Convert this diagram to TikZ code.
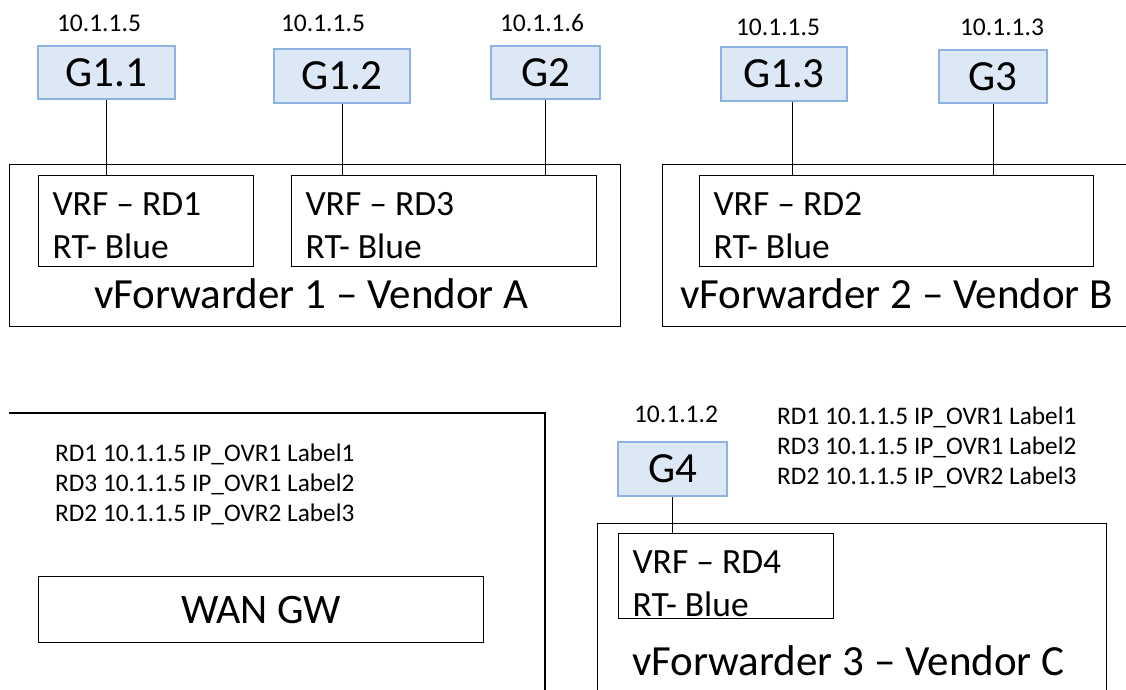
\documentclass[tikz,border=0pt]{standalone}
\usepackage{fontspec}
\setmainfont{Carlito}
\definecolor{gfill}{RGB}{220,232,245}
\definecolor{gline}{RGB}{141,179,226}

\begin{document}
\begin{tikzpicture}[
  x=1pt,y=-1pt,
  gbox/.style={draw=gline,fill=gfill,line width=1.2pt,inner sep=0pt,font=\fontsize{43}{52}\selectfont},
  vrf/.style={draw,line width=1.2pt,anchor=north west,align=flush left,inner xsep=14pt,inner ysep=0pt,text height=33pt,font=\fontsize{35.5}{43}\selectfont},
  vfbox/.style={draw,line width=1.2pt,anchor=north west,inner sep=0pt},
  vendor/.style={anchor=base west,inner sep=0pt,font=\fontsize{43}{52}\selectfont},
  ip/.style={anchor=base,inner sep=0pt,font=\fontsize{25.5}{30}\selectfont},
  routes/.style={anchor=base west,align=flush left,text width=320pt,inner sep=0pt,font=\fontsize{25.3}{30}\selectfont},
  link/.style={line width=1pt}
]
\useasboundingbox (0,0) rectangle (1126,689);
\clip (0,0) rectangle (1126,689);

\node[vfbox,minimum width=611pt,minimum height=162pt] (vf1) at (9,164) {};
\node[vendor] (vf1t) at (94,308) {vForwarder 1 -- Vendor A};
\node[vrf,minimum width=215pt,minimum height=91pt,text width=187pt] (rd1) at (38,175) {VRF -- RD1\\RT- Blue};
\node[vrf,minimum width=305pt,minimum height=91pt,text width=277pt] (rd3) at (291,175) {VRF -- RD3\\RT- Blue};
\node[gbox,minimum width=137pt,minimum height=53pt] (g11) at (106.5,72.5) {G1.1};
\node[gbox,minimum width=136pt,minimum height=54pt] (g12) at (342,76) {G1.2};
\node[gbox,minimum width=109pt,minimum height=53pt] (g2) at (545.5,72.5) {G2};
\node[ip] (ip11) at (99,31) {10.1.1.5};
\node[ip] (ip12) at (323,31) {10.1.1.5};
\node[ip] (ip2) at (542,31) {10.1.1.6};
\draw[link] (g11) -- (g11 |- rd1.north);
\draw[link] (g12) -- (g12 |- rd3.north);
\draw[link] (g2) -- (g2 |- rd3.north);

\node[vfbox,minimum width=500pt,minimum height=162pt] (vf2) at (662,164) {};
\node[vendor] (vf2t) at (680,308) {vForwarder 2 -- Vendor B};
\node[vrf,minimum width=394pt,minimum height=91pt,text width=366pt] (rd2) at (699,175) {VRF -- RD2\\RT- Blue};
\node[gbox,minimum width=126pt,minimum height=54pt] (g13) at (784,74) {G1.3};
\node[gbox,minimum width=108pt,minimum height=53pt] (g3) at (993,76.5) {G3};
\node[ip] (ip13) at (778,35) {10.1.1.5};
\node[ip] (ip3) at (1002,35) {10.1.1.3};
\draw[link] ([xshift=8pt]g13.south) -- ([xshift=8pt]g13.south |- rd2.north);
\draw[link] (g3) -- (g3 |- rd2.north);

\draw[line width=1.2pt] (9,413) -| (545,700);
\node[routes] (rl) at (55,461) {RD1 10.1.1.5 IP\_OVR1 Label1\\RD3 10.1.1.5 IP\_OVR1 Label2\\RD2 10.1.1.5 IP\_OVR2 Label3};
\node[draw,line width=1.2pt,anchor=north west,minimum width=445pt,minimum height=66pt,inner sep=0pt,font=\fontsize{42}{50}\selectfont] (wan) at (38,576) {WAN GW};

\node[vfbox,minimum width=509pt,minimum height=200pt] (vf3) at (597,523) {};
\node[vendor] (vf3t) at (632,675.5) {vForwarder 3 -- Vendor C};
\node[vrf,minimum width=215pt,minimum height=85pt,text width=187pt,text height=38.8pt] (rd4) at (618,533) {VRF -- RD4\\RT- Blue};
\node[gbox,minimum width=109pt,minimum height=54pt] (g4) at (672.5,469) {G4};
\node[ip] (ip4) at (676,422) {10.1.1.2};
\node[routes] (rr) at (777,424) {RD1 10.1.1.5 IP\_OVR1 Label1\\RD3 10.1.1.5 IP\_OVR1 Label2\\RD2 10.1.1.5 IP\_OVR2 Label3};
\draw[link] (g4) -- (g4 |- rd4.north);
\end{tikzpicture}
\end{document}
